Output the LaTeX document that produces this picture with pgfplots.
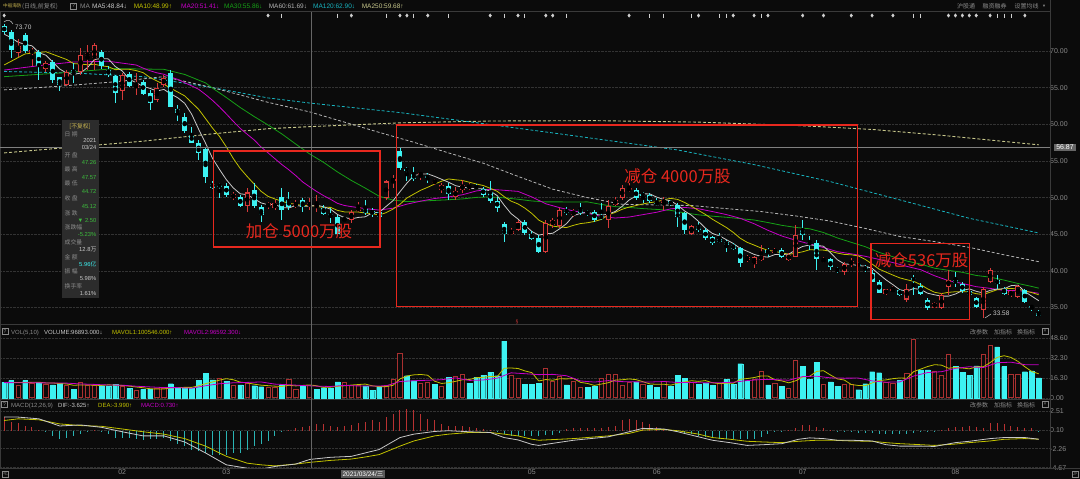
\documentclass[border=0pt]{standalone}
\usepackage{fontspec}
\setmainfont{Liberation Sans}
\newfontfamily\cjk{Noto Sans CJK SC}
\usepackage{pgfplots}
\pgfplotsset{compat=1.18}
\usepackage{pgfplotstable}
\newcommand\fs[1]{\fontsize{#1}{#1}\selectfont}
\definecolor{bg}{HTML}{0B0B0B}
\definecolor{upc}{HTML}{D83A3A}
\definecolor{dnc}{HTML}{3DF2F2}
\definecolor{volup}{HTML}{A93030}
\definecolor{txtg}{HTML}{8A8A8A}
\definecolor{ma5}{HTML}{C8C8C8}
\definecolor{ma10}{HTML}{C2C200}
\definecolor{ma20}{HTML}{C800C8}
\definecolor{ma30}{HTML}{16A016}
\definecolor{ma60}{HTML}{B4B4B4}
\definecolor{ma120}{HTML}{18B4C0}
\definecolor{ma250}{HTML}{C8C88C}
\definecolor{boxred}{HTML}{E8281E}
\definecolor{gridc}{HTML}{333333}
\definecolor{sepc}{HTML}{3A3A3A}
\definecolor{macdr}{HTML}{B83232}
\definecolor{macdc}{HTML}{2AB4B4}
\definecolor{mkc}{HTML}{D0D0D0}
\definecolor{infobg}{HTML}{2C2C2C}
\definecolor{grn}{HTML}{3DBE3D}
\definecolor{titlec}{HTML}{C8B450}

\pgfplotstableread{
i o h l c
0 73.4 73.7 72.3 72.6
1 72.6 72.9 69.1 70.1
2 69.7 71.7 69.2 70.7
3 72.2 72.4 69.7 70.05
4 69.7 70.4 67.9 70.1
5 69.9 70.1 66.05 67.9
6 67.5 68.7 67.2 68.4
7 68.5 68.8 65.6 66.05
8 66.4 66.5 64.6 65.3
9 65.4 67.4 65.2 67.2
10 67.4 68.3 65.6 67.0
11 67.2 70.4 66.7 69.5
12 69.3 70.8 67.4 69.7
13 69.0 71.05 67.4 70.8
14 69.9 70.1 67.6 67.9
15 67.4 67.9 66.5 66.7
16 66.6 66.7 62.9 64.3
17 64.5 66.95 63.3 66.7
18 66.9 67.2 65.1 65.2
19 64.9 66.95 64.0 65.5
20 65.8 66.05 64.0 64.2
21 64.3 64.7 61.95 62.9
22 63.3 65.6 63.1 64.9
23 65.4 66.7 65.1 66.3
24 67.05 67.4 62.3 62.4
25 62.05 62.6 60.4 61.6
26 60.96 61.5 58.8 59.1
27 58.6 59.7 57.4 57.5
28 57.5 57.9 55.1 56.1
29 56.7 56.95 51.96 52.8
30 51.9 52.2 51.2 51.3
31 51.7 51.95 49.9 51.6
32 51.6 51.95 50.1 50.4
33 49.9 50.8 49.7 50.5
34 50.1 50.35 48.7 48.8
35 48.8 51.3 48.1 50.7
36 51.05 51.95 48.55 48.8
37 48.7 49.0 46.7 47.6
38 48.8 49.4 48.5 49.2
39 48.55 49.7 48.3 49.2
40 50.05 51.3 46.95 48.3
41 49.7 50.8 48.3 48.7
42 48.9 49.7 48.55 49.2
43 49.7 49.9 48.1 48.7
44 48.9 49.9 48.3 49.2
45 48.7 50.35 48.1 49.0
46 48.6 49.0 47.6 47.7
47 47.7 48.55 46.5 47.5
48 47.3 47.6 44.9 45.1
49 46.95 47.4 46.7 47.1
50 46.95 48.3 46.5 48.1
51 48.2 49.45 48.1 48.7
52 48.5 49.7 47.6 47.9
53 48.2 48.55 47.4 47.8
54 48.0 48.3 46.95 47.4
55 49.9 52.4 49.7 52.2
56 52.2 53.1 51.3 52.6
57 56.3 56.95 53.8 54.0
58 53.9 54.2 52.2 53.7
59 53.2 54.2 52.2 52.5
60 53.1 53.55 52.4 53.3
61 53.0 53.3 51.95 52.7
62 52.0 52.6 51.7 52.3
63 51.05 51.95 50.6 51.7
64 51.6 51.95 49.7 50.5
65 50.05 51.5 49.7 50.95
66 51.05 52.4 50.6 51.7
67 51.3 52.0 51.0 51.6
68 51.5 51.8 51.0 51.3
69 51.2 51.5 50.1 50.4
70 50.8 52.2 49.2 49.5
71 49.55 50.1 48.1 48.6
72 46.35 46.7 43.9 45.1
73 45.05 45.8 44.9 45.5
74 45.6 46.95 45.4 46.7
75 46.7 46.95 44.9 45.2
76 45.05 45.4 44.2 44.4
77 44.45 44.9 42.4 42.6
78 42.6 46.95 42.4 46.5
79 46.3 47.2 45.9 46.95
80 46.1 48.55 45.9 48.3
81 48.3 48.75 47.6 47.95
82 47.6 48.5 47.4 48.1
83 48.5 49.2 47.6 47.9
84 48.1 48.3 47.5 47.8
85 48.1 48.3 46.7 47.0
86 47.5 49.2 46.95 47.2
87 46.95 49.7 45.9 48.85
88 49.0 50.1 48.8 49.7
89 49.9 51.7 49.7 51.3
90 51.0 51.95 50.8 51.3
91 51.1 51.3 49.7 50.0
92 50.5 50.7 49.2 50.3
93 50.35 50.6 49.2 49.6
94 49.3 49.9 48.8 49.1
95 49.3 50.1 48.3 49.7
96 49.5 49.7 48.85 49.1
97 49.0 49.2 46.0 47.4
98 47.85 48.1 45.1 45.6
99 45.1 46.3 44.9 46.1
100 46.1 46.7 45.35 45.6
101 45.6 45.8 44.2 44.45
102 44.6 44.8 43.5 43.8
103 44.3 45.2 43.85 44.0
104 44.0 44.2 42.6 43.5
105 43.5 43.8 42.85 43.0
106 43.1 43.3 40.6 41.1
107 41.5 42.2 41.2 41.85
108 40.95 42.0 40.35 41.85
109 41.5 43.5 41.3 42.1
110 42.85 43.1 41.95 42.5
111 42.5 43.1 42.3 42.85
112 42.85 43.1 41.7 41.85
113 41.5 42.4 41.35 42.2
114 41.95 46.3 41.85 44.9
115 45.6 46.95 44.2 44.9
116 44.0 44.7 42.85 43.85
117 43.8 44.2 40.1 41.6
118 41.3 41.95 41.05 41.6
119 41.6 41.7 40.1 40.5
120 40.2 40.6 39.7 40.05
121 39.9 41.25 39.45 41.0
122 40.8 41.7 40.6 41.35
123 40.95 41.25 40.5 40.7
124 40.5 40.8 39.9 40.2
125 39.75 40.1 38.5 38.5
126 38.45 38.75 36.95 37.0
127 36.8 37.6 36.7 37.5
128 37.35 37.95 37.2 37.45
129 37.4 37.6 36.6 36.7
130 36.1 38.2 35.8 37.6
131 39.0 39.45 36.7 38.75
132 37.95 38.3 36.7 36.85
133 36.05 36.3 34.7 34.9
134 35.0 35.8 34.95 35.6
135 34.9 36.95 34.75 36.7
136 37.85 40.1 36.7 38.75
137 38.75 39.9 37.85 38.3
138 38.2 38.5 37.05 37.3
139 37.2 37.4 36.5 36.7
140 36.3 36.5 34.9 35.05
141 34.7 37.85 33.58 37.6
142 38.5 40.35 38.3 40.1
143 38.75 39.45 37.6 38.2
144 37.6 37.85 36.7 36.85
145 36.7 37.4 36.5 37.2
146 36.5 38.1 36.3 37.95
147 37.4 37.6 35.6 35.7
148 35.15 35.35 34.6 35.05
149 34.3 34.7 33.7 33.8
}\kd

\pgfplotstableread{
i v u
0 12.5 0
1 14.1 0
2 10.5 1
3 14.1 0
4 11.9 1
5 12.7 0
6 11.1 1
7 10.5 0
8 11.9 0
9 10.5 1
10 7.1 0
11 12.5 1
12 10.5 1
13 10.5 1
14 9.9 0
15 9.7 0
16 11.1 0
17 9.1 1
18 7.7 0
19 6.3 1
20 6.9 0
21 7.1 0
22 7.7 1
23 7.7 1
24 11.6 0
25 7.7 0
26 7.7 0
27 7.7 0
28 14.4 0
29 19.8 0
30 14.7 0
31 15.6 1
32 13.3 0
33 9.9 1
34 10.5 0
35 11.9 1
36 9.9 0
37 9.1 0
38 8.3 1
39 8.3 1
40 10.5 0
41 14.7 1
42 6.9 1
43 9.9 0
44 10.5 1
45 7.1 0
46 8.3 0
47 7.7 0
48 13.0 0
49 12.7 1
50 10.5 1
51 9.9 1
52 9.7 0
53 6.3 0
54 9.1 0
55 10.5 1
56 15.3 1
57 35.8 1
58 18.1 0
59 13.9 0
60 11.9 1
61 12.5 1
62 11.1 0
63 9.1 1
64 16.9 0
65 17.5 1
66 18.9 1
67 11.9 0
68 16.9 0
69 18.4 0
70 20.9 0
71 18.1 0
72 46.1 0
73 18.1 1
74 16.1 1
75 11.1 0
76 11.1 0
77 12.0 0
78 24.1 1
79 13.4 1
80 17.1 1
81 10.6 0
82 13.4 1
83 8.6 1
84 8.6 0
85 9.2 0
86 16.2 1
87 19.0 1
88 19.0 1
89 10.1 1
90 12.9 1
91 12.9 0
92 10.6 1
93 10.1 0
94 8.4 0
95 13.4 1
96 9.2 0
97 18.5 0
98 15.7 0
99 12.9 1
100 10.9 0
101 12.0 0
102 10.1 0
103 11.5 1
104 15.1 0
105 10.9 0
106 27.8 0
107 13.4 0
108 15.1 1
109 21.9 1
110 10.6 0
111 12.0 1
112 9.2 0
113 7.3 1
114 30.3 1
115 25.5 0
116 15.1 0
117 29.1 0
118 10.6 1
119 12.9 0
120 9.5 0
121 10.6 1
122 10.6 1
123 6.7 0
124 11.5 0
125 21.3 0
126 20.5 0
127 12.9 1
128 12.0 1
129 14.3 0
130 19.9 1
131 48.0 1
132 22.7 0
133 22.7 0
134 21.9 1
135 17.9 1
136 35.3 1
137 25.5 0
138 20.7 0
139 18.5 0
140 26.1 0
141 35.3 1
142 42.9 1
143 41.5 0
144 25.5 0
145 19.1 1
146 19.3 1
147 21.3 0
148 21.9 0
149 16.2 0
}\vol

\pgfplotstableread{
i m
0 1.72
1 1.07
2 1.0
3 0.65
4 0.43
5 0.1
6 -0.2
7 -0.65
8 -1.07
9 -0.86
10 -0.65
11 -0.43
12 -0.2
13 0.05
14 -0.2
15 -0.43
16 -0.86
17 -0.86
18 -0.86
19 -1.07
20 -1.16
21 -1.07
22 -1.07
23 -0.86
24 -1.29
25 -1.72
26 -1.94
27 -2.37
28 -2.58
29 -2.8
30 -3.01
31 -3.01
32 -3.01
33 -2.8
34 -2.8
35 -2.37
36 -1.94
37 -1.72
38 -1.29
39 -0.65
40 -0.2
41 0.1
42 0.3
43 0.43
44 0.65
45 0.86
46 0.86
47 0.56
48 0.43
49 0.56
50 0.73
51 0.99
52 1.16
53 1.29
54 1.16
55 1.72
56 2.15
57 2.58
58 2.71
59 2.58
60 2.15
61 1.5
62 1.29
63 0.86
64 0.65
65 0.56
66 0.56
67 0.43
68 0.3
69 0.2
70 0.13
71 -0.1
72 -0.43
73 -0.65
74 -0.65
75 -0.65
76 -0.65
77 -0.65
78 -0.56
79 -0.5
80 -0.3
81 0.2
82 0.3
83 0.3
84 0.35
85 0.35
86 0.4
87 0.5
88 0.65
89 1.29
90 1.46
91 1.29
92 1.08
93 0.82
94 0.52
95 0.22
96 0.05
97 -0.2
98 -0.35
99 -0.47
100 -0.65
101 -0.77
102 -0.9
103 -0.99
104 -1.07
105 -1.07
106 -1.07
107 -0.99
108 -0.99
109 -0.77
110 -0.47
111 -0.22
112 -0.05
113 0.15
114 0.39
115 0.73
116 0.73
117 0.52
118 0.3
119 0.1
120 -0.1
121 -0.15
122 -0.2
123 -0.25
124 -0.3
125 -0.3
126 -0.4
127 -0.4
128 -0.45
129 -0.45
130 -0.35
131 -0.25
132 -0.15
133 -0.1
134 -0.05
135 0.1
136 0.3
137 0.45
138 0.52
139 0.65
140 0.52
141 0.4
142 0.95
143 1.03
144 0.82
145 0.65
146 0.52
147 0.39
148 0.3
149 -0.1
}\macd

\pgfplotsset{panel/.style={scale only axis, width=1050pt, xmin=-0.605, xmax=150.62,
  axis line style={draw=none}, tick style={draw=none}, xtick=\empty,
  yticklabel pos=right, yticklabel style={font=\fs{7}, text=txtg},
  ymajorgrids, grid style={gridc, densely dotted, line width=0.6pt},
  /pgf/number format/assume math mode=true, anchor=north west}}

\begin{document}
\begin{tikzpicture}[x=1pt,y=1pt, every node/.style={inner sep=0pt}]
\useasboundingbox (0,0) rectangle (1080,-479);
\fill[bg] (0,0) rectangle (1080,-479);

%================ PRICE PANEL
\begin{axis}[panel, at={(0pt,-12pt)}, height=312pt, ymin=32.76, ymax=75.32,
  ytick={35,40,45,50,55,60,65,70},
  yticklabel style={/pgf/number format/.cd, fixed, fixed zerofill, precision=2}]
\addplot[ma250, densely dashed, line width=0.9pt] coordinates {(0,56.1)(10,56.9)(20,57.7)(30,58.7)(38,59.4)(44,59.68)(57,60.2)(70,60.45)(85,60.5)(100,60.3)(115,59.8)(125,59.3)(135,58.5)(149,57.2)};
\addplot[ma120, densely dashed, line width=0.8pt] coordinates {(0,67.2)(10,67.0)(20,66.5)(30,65.0)(38,63.6)(44,62.9)(57,61.6)(65,60.6)(80,58.7)(97,56.5)(108,54.5)(119,52.18)(129,49.69)(139,47.18)(149,45.18)};
\addplot[ma60, densely dashed, line width=0.8pt] coordinates {(0,64.7)(8,65.2)(16,65.8)(23,66.5)(30,65.0)(38,63.0)(44,61.69)(49,60.3)(54,58.9)(59,57.55)(64,56.1)(69,54.69)(74,52.9)(79,51.15)(84,50.0)(89,49.09)(94,49.0)(99,48.92)(104,48.5)(109,48.1)(114,47.5)(119,46.8)(124,45.8)(129,44.7)(134,44.0)(139,43.21)(144,42.2)(149,41.26)};
\addplot[ma30, line width=0.8pt] coordinates {(0,66.5)(8,67.0)(16,67.6)(23,67.5)(26,66.8)(29,65.65)(30,64.94)(32,63.65)(34,62.29)(36,61.06)(38,59.91)(40,58.68)(42,57.3)(44,55.95)(46,54.81)(48,53.5)(50,52.34)(52,51.3)(54,50.19)(56,49.66)(58,49.46)(60,49.52)(62,49.62)(64,49.71)(66,49.82)(68,50.03)(70,50.1)(72,49.97)(74,49.78)(76,49.54)(78,49.42)(80,49.42)(82,49.4)(84,49.42)(86,49.07)(88,48.77)(90,48.66)(92,48.5)(94,48.39)(96,48.26)(98,47.92)(100,47.65)(102,47.47)(104,47.32)(106,47.13)(108,46.95)(110,46.6)(112,46.22)(114,45.93)(116,45.75)(118,45.24)(120,44.5)(122,43.9)(124,43.31)(126,42.53)(128,41.94)(130,41.35)(132,40.93)(134,40.37)(136,40.08)(138,39.81)(140,39.38)(142,39.15)(144,38.75)(146,38.29)(148,37.88)(149,37.65)};
\addplot[ma20, line width=0.8pt] coordinates {(0,67.4)(5,68.0)(10,68.5)(15,68.6)(19,68.09)(20,67.67)(21,67.31)(22,67.02)(23,66.83)(24,66.45)(25,66.13)(26,65.67)(27,65.24)(28,64.78)(29,64.06)(30,63.27)(31,62.38)(32,61.41)(33,60.4)(34,59.44)(35,58.64)(36,57.87)(37,56.91)(38,56.11)(39,55.3)(40,54.5)(41,53.79)(42,53.0)(43,52.13)(44,51.47)(45,50.84)(46,50.27)(47,49.77)(48,49.22)(49,48.93)(50,48.77)(52,48.5)(54,48.3)(56,48.56)(58,49.11)(60,49.52)(62,49.88)(64,50.09)(66,50.39)(68,50.91)(70,51.14)(72,51.0)(74,50.85)(76,50.09)(78,49.16)(80,48.63)(82,48.18)(84,47.86)(86,47.43)(88,47.22)(90,47.35)(92,47.68)(94,48.01)(96,48.47)(98,48.66)(100,48.48)(102,48.1)(104,47.69)(106,47.18)(108,46.44)(110,45.54)(112,44.76)(114,44.18)(116,43.68)(118,43.19)(120,42.63)(122,42.33)(124,42.0)(126,41.57)(128,41.14)(130,40.62)(132,40.17)(134,39.34)(136,38.67)(138,38.29)(140,37.85)(142,37.62)(144,37.33)(146,37.31)(148,37.1)(149,36.95)};
\addplot[ma10, line width=0.8pt] coordinates {(0,68.1)(3,69.6)(6,69.9)(9,68.84)(10,68.28)(11,68.22)(12,68.12)(13,68.2)(14,67.98)(15,67.86)(16,67.45)(17,67.51)(18,67.5)(19,67.33)(20,67.05)(21,66.39)(22,65.91)(23,65.46)(24,64.91)(25,64.4)(26,63.88)(27,62.96)(28,62.05)(29,60.78)(30,59.49)(31,58.36)(32,56.91)(33,55.33)(34,53.97)(35,52.88)(36,51.85)(37,50.86)(38,50.17)(39,49.81)(40,49.51)(41,49.22)(42,49.1)(43,48.92)(44,48.96)(45,48.79)(46,48.68)(47,48.67)(48,48.26)(49,48.05)(50,48.03)(51,48.03)(52,47.9)(53,47.81)(54,47.63)(55,47.95)(56,48.44)(57,49.09)(58,49.95)(59,50.49)(60,51.01)(61,51.41)(62,51.85)(63,52.24)(64,52.55)(65,52.43)(66,52.34)(67,52.1)(68,51.86)(69,51.65)(70,51.27)(71,50.86)(72,50.14)(73,49.52)(74,49.14)(75,48.56)(76,47.83)(77,46.93)(78,46.45)(79,46.11)(80,45.99)(81,45.92)(82,46.22)(83,46.46)(84,46.57)(85,46.75)(86,47.03)(87,47.66)(88,47.98)(89,48.41)(90,48.71)(91,48.92)(92,49.14)(93,49.31)(94,49.44)(95,49.71)(96,49.9)(97,49.75)(98,49.34)(99,48.82)(100,48.25)(101,47.7)(102,47.05)(103,46.49)(104,45.93)(105,45.26)(106,44.46)(107,43.9)(108,43.53)(109,43.13)(110,42.82)(111,42.66)(112,42.46)(113,42.28)(114,42.42)(115,42.61)(116,42.89)(117,42.86)(118,42.84)(119,42.68)(120,42.43)(121,42.25)(122,42.2)(123,42.05)(124,41.58)(125,40.94)(126,40.25)(127,39.84)(128,39.43)(129,39.05)(130,38.8)(131,38.58)(132,38.13)(133,37.55)(134,37.09)(135,36.91)(136,37.08)(137,37.16)(138,37.15)(139,37.15)(140,36.89)(141,36.78)(142,37.1)(143,37.43)(144,37.56)(145,37.61)(146,37.53)(147,37.27)(148,37.04)(149,36.75)};
\addplot[ma5, line width=0.8pt] coordinates {(0,72.3)(1,71.8)(2,71.2)(3,70.9)(4,70.71)(5,69.77)(6,69.43)(7,68.5)(8,67.55)(9,66.97)(10,66.79)(11,67.01)(12,67.74)(13,68.84)(14,68.98)(15,68.92)(16,67.88)(17,67.28)(18,66.16)(19,65.68)(20,65.18)(21,64.9)(22,64.54)(23,64.76)(24,64.14)(25,63.62)(26,62.86)(27,61.38)(28,59.34)(29,57.42)(30,55.36)(31,53.86)(32,52.44)(33,51.32)(34,50.52)(35,50.4)(36,49.84)(37,49.28)(38,49.02)(39,49.1)(40,48.62)(41,48.6)(42,48.92)(43,48.82)(44,48.82)(45,48.96)(46,48.76)(47,48.42)(48,47.7)(49,47.28)(50,47.1)(51,47.3)(52,47.38)(53,47.92)(54,47.98)(55,48.8)(56,49.58)(57,50.8)(58,51.98)(59,53.0)(60,53.22)(61,53.24)(62,52.9)(63,52.5)(64,52.1)(65,51.63)(66,51.43)(67,51.29)(68,51.21)(69,51.19)(70,50.9)(71,50.28)(72,48.98)(73,47.82)(74,47.08)(75,46.22)(76,45.38)(77,44.88)(78,45.08)(79,45.13)(80,45.75)(81,46.46)(82,47.56)(83,47.84)(84,48.01)(85,47.75)(86,47.6)(87,47.75)(88,48.11)(89,48.81)(90,49.67)(91,50.23)(92,50.52)(93,50.5)(94,50.06)(95,49.74)(96,49.56)(97,48.98)(98,48.18)(99,47.58)(100,46.76)(101,45.83)(102,45.11)(103,44.79)(104,44.27)(105,43.75)(106,43.08)(107,42.69)(108,42.26)(109,41.98)(110,41.88)(111,42.23)(112,42.23)(113,42.3)(114,42.86)(115,43.34)(116,43.54)(117,43.49)(118,43.37)(119,42.49)(120,41.52)(121,40.95)(122,40.9)(123,40.72)(124,40.66)(125,40.35)(126,39.55)(127,38.78)(128,38.13)(129,37.43)(130,37.25)(131,37.6)(132,37.47)(133,36.96)(134,36.74)(135,36.56)(136,36.56)(137,36.85)(138,37.33)(139,37.55)(140,37.22)(141,36.99)(142,37.35)(143,37.53)(144,37.56)(145,37.99)(146,38.06)(147,37.18)(148,36.55)(149,35.94)};
% candles: down
\addplot[only marks, mark=none, restrict expr to domain={\thisrow{c}-\thisrow{o}}{-1000:-0.0001},
  error bars/.cd, y dir=both, y explicit, error mark=none, error bar style={draw=dnc, solid, line width=0.9pt}]
  table[x=i, y expr={(\thisrow{h}+\thisrow{l})/2}, y error expr={(\thisrow{h}-\thisrow{l})/2}] {\kd};
\addplot[only marks, mark=none, restrict expr to domain={\thisrow{c}-\thisrow{o}}{-1000:-0.0001},
  error bars/.cd, y dir=both, y explicit, error mark=none, error bar style={draw=dnc, solid, line width=5pt}]
  table[x=i, y expr={(\thisrow{o}+\thisrow{c})/2}, y error expr={max(abs(\thisrow{o}-\thisrow{c})/2,0.07)}] {\kd};
% candles: up
\addplot[only marks, mark=none, restrict expr to domain={\thisrow{c}-\thisrow{o}}{0:1000},
  error bars/.cd, y dir=both, y explicit, error mark=none, error bar style={draw=upc, solid, line width=0.9pt}]
  table[x=i, y expr={(\thisrow{h}+\thisrow{l})/2}, y error expr={(\thisrow{h}-\thisrow{l})/2}] {\kd};
\addplot[only marks, mark=none, restrict expr to domain={\thisrow{c}-\thisrow{o}}{0:1000},
  error bars/.cd, y dir=both, y explicit, error mark=none, error bar style={draw=upc, solid, line width=5pt}]
  table[x=i, y expr={(\thisrow{o}+\thisrow{c})/2}, y error expr={max(abs(\thisrow{o}-\thisrow{c})/2,0.07)}] {\kd};
\addplot[only marks, mark=none, restrict expr to domain={\thisrow{c}-\thisrow{o}}{0:1000},
  error bars/.cd, y dir=both, y explicit, error mark=none, error bar style={draw=bg, solid, line width=3.2pt}]
  table[x=i, y expr={(\thisrow{o}+\thisrow{c})/2}, y error expr={max(abs(\thisrow{o}-\thisrow{c})/2-0.14,0)}] {\kd};
% event markers row
\addplot[only marks, mark=diamond*, mark size=1.7pt, mkc] coordinates {(0,74.84)(38,74.84)(50,74.84)(57,74.84)(58,74.84)(61,74.84)(70,74.84)(74,74.84)(78,74.84)(79,74.84)(90,74.84)(100,74.84)(105,74.84)(108,74.84)(110,74.84)(115,74.84)(118,74.84)(122,74.84)(125,74.84)(128,74.84)(136,74.84)(137,74.84)(138,74.84)(139,74.84)(140,74.84)(142,74.84)(147,74.84)};
\addplot[only marks, mark=|, mark size=2pt, mkc, line width=0.9pt] coordinates {(40,74.84)(48,74.84)(55,74.84)(59,74.84)(64,74.84)(72,74.84)(75,74.84)(81,74.84)(93,74.84)(95,74.84)(99,74.84)(103,74.84)(104,74.84)(109,74.84)(131,74.84)(132,74.84)(143,74.84)(144,74.84)(145,74.84)};
\end{axis}

%================ VOLUME PANEL
\begin{axis}[panel, at={(0pt,-324pt)}, height=75pt, ymin=-0.98, ymax=60.15,
  ytick={0,16.3,32.3,48.6}, yticklabels={0.00,16.30,32.30,48.60}]
\addplot[ybar, bar width=4.8pt, bar shift=0pt, fill=dnc, draw=dnc, line width=0.1pt,
  restrict expr to domain={\thisrow{u}}{-0.5:0.5}] table[x=i,y=v] {\vol};
\addplot[ybar, bar width=4.2pt, bar shift=0pt, fill=bg, draw=volup, line width=0.8pt,
  restrict expr to domain={\thisrow{u}}{0.5:1.5}] table[x=i,y=v] {\vol};
\addplot[ma10, line width=0.8pt] coordinates {(0,12.5)(2,12.4)(4,12.6)(5,12.7)(6,12.1)(7,12.1)(8,11.6)(9,11.3)(10,10.2)(11,10.5)(12,10.5)(13,10.2)(14,10.1)(15,10.6)(16,10.3)(17,10.1)(18,9.5)(19,8.8)(20,8.2)(21,7.4)(22,7.1)(23,7.1)(24,8.2)(25,8.4)(26,8.5)(27,8.5)(28,9.8)(29,11.5)(30,12.9)(31,14.4)(32,15.6)(33,14.7)(34,12.8)(35,12.2)(36,11.1)(37,10.3)(38,9.9)(39,9.5)(40,9.2)(41,10.2)(42,9.7)(43,10.1)(44,10.5)(45,9.8)(46,8.5)(47,8.7)(48,9.3)(49,9.8)(50,10.4)(51,10.8)(52,11.2)(53,9.8)(54,9.1)(55,9.1)(56,10.2)(57,15.4)(58,17.8)(59,18.7)(60,19.0)(61,18.4)(62,13.5)(63,11.7)(64,12.3)(65,13.4)(66,14.7)(67,14.9)(68,16.4)(69,16.7)(70,17.4)(71,17.2)(72,24.1)(73,24.3)(74,23.9)(75,21.9)(76,20.5)(77,13.7)(78,14.9)(79,14.3)(80,15.5)(81,15.4)(82,15.7)(83,12.6)(84,11.7)(85,10.1)(86,11.2)(87,12.3)(88,14.4)(89,14.7)(90,15.4)(91,14.8)(92,13.1)(93,11.3)(94,11.0)(95,11.1)(96,10.3)(97,11.9)(98,13.0)(99,13.9)(100,13.4)(101,14.0)(102,12.3)(103,11.5)(104,11.9)(105,11.9)(106,15.1)(107,15.7)(108,16.5)(109,17.8)(110,17.8)(111,14.6)(112,13.8)(113,12.2)(114,13.9)(115,16.9)(116,17.5)(117,21.5)(118,22.1)(119,18.6)(120,15.4)(121,14.5)(122,10.8)(123,10.1)(124,9.8)(125,12.1)(126,14.1)(127,14.6)(128,15.6)(129,16.2)(130,15.9)(131,21.4)(132,23.4)(133,25.5)(134,27.0)(135,26.6)(136,24.1)(137,24.7)(138,24.3)(139,23.6)(140,25.2)(141,25.2)(142,28.7)(143,32.9)(144,34.3)(145,32.9)(146,29.7)(147,25.3)(148,21.4)(149,19.6)};
\addplot[ma20, line width=0.8pt] coordinates {(0,12.4)(5,12.2)(9,11.98)(11,11.28)(13,10.92)(15,10.42)(17,10.28)(19,9.44)(21,8.88)(23,8.32)(25,8.29)(27,7.81)(29,9.83)(31,11.46)(33,12.24)(35,12.55)(37,12.91)(39,11.15)(41,10.64)(43,10.0)(45,9.52)(47,9.22)(49,10.13)(51,9.65)(53,9.57)(55,9.77)(57,13.28)(59,13.91)(61,14.31)(63,14.73)(65,16.21)(67,14.18)(69,14.51)(71,15.97)(73,20.37)(75,19.65)(77,18.88)(79,19.1)(81,17.97)(83,13.75)(85,12.81)(87,14.02)(89,13.18)(91,12.99)(93,12.86)(95,13.26)(97,12.51)(99,12.46)(101,12.17)(103,12.26)(105,12.68)(107,14.03)(109,14.87)(111,14.84)(113,14.33)(115,17.31)(117,17.61)(119,16.26)(121,16.01)(123,16.09)(125,13.79)(127,12.71)(129,12.99)(131,17.77)(133,20.58)(135,21.28)(137,24.02)(139,25.31)(141,24.66)(143,28.56)(145,29.04)(147,27.02)(149,26.91)};
\end{axis}

%================ MACD PANEL
\begin{axis}[panel, at={(0pt,-399pt)}, height=69pt, ymin=-4.7, ymax=4.0,
  ytick={2.51,0.10,-2.26,-4.67}, yticklabels={2.51,0.10,-2.26,-4.67},
  xtick={17,32,76,94,115,137}, xticklabels={02,03,05,06,07,08},
  xticklabel style={font=\fs{7}, text=txtg, yshift=-1.5pt}]
\addplot[ycomb, draw=macdr, line width=1pt, restrict y to domain=0:10] table[x=i,y=m] {\macd};
\addplot[ycomb, draw=macdc, line width=1pt, restrict y to domain=-10:0] table[x=i,y=m] {\macd};
\addplot[ma10, line width=0.8pt] coordinates {(0,1.29)(2,1.5)(5,1.38)(8,0.86)(11,0.65)(14,0.56)(17,0.22)(20,-0.13)(23,-0.43)(26,-0.99)(29,-1.94)(32,-3.23)(35,-4.09)(37,-4.3)(39,-4.43)(42,-4.2)(44,-3.99)(47,-3.74)(50,-3.57)(52,-3.31)(54,-3.01)(57,-1.94)(59,-1.29)(62,-0.65)(64,-0.43)(67,-0.22)(70,-0.22)(72,-0.43)(74,-0.65)(76,-1.07)(77,-1.2)(82,-0.99)(87,-0.65)(90,-0.34)(92,0.09)(95,0.17)(97,0)(100,-0.43)(102,-0.86)(104.5,-1.07)(107,-1.33)(109.4,-1.42)(112,-1.5)(114.4,-1.33)(117,-1.2)(119.4,-1.2)(122,-1.29)(125,-1.33)(127,-1.5)(129,-1.63)(132,-1.76)(134,-1.85)(137,-1.68)(139,-1.5)(142,-1.29)(144,-1.08)(147,-0.99)(149,-1.07)};
\addplot[ma5, line width=0.8pt] coordinates {(0,1.72)(2,1.72)(5,1.5)(8,0.6)(11,0.73)(14,0.43)(17,-0.13)(20,-0.65)(23,-0.65)(26,-1.42)(29,-2.8)(32,-4.3)(35,-4.73)(37,-4.86)(39,-4.5)(42,-4.2)(44,-3.62)(47,-3.35)(50,-3.23)(52,-2.8)(54,-2.37)(57,-0.86)(59,-0.43)(62,-0.09)(64,0)(67,-0.13)(70,-0.22)(72,-0.86)(74,-1.16)(76,-1.72)(77,-1.85)(82,-1.2)(87,-0.77)(90,-0.13)(92,0.3)(95,0.22)(97,-0.13)(100,-0.77)(102,-1.2)(104.5,-1.5)(107,-1.85)(109.4,-1.76)(112,-1.63)(114.4,-1.08)(116,-0.9)(118,-0.99)(120,-1.2)(122,-1.2)(125,-1.29)(127,-1.76)(129,-1.94)(132,-1.94)(134,-1.98)(137,-1.5)(139,-1.33)(142,-0.99)(144,-0.86)(147,-0.86)(149,-1.07)};
\end{axis}

%================ FRAME, CROSSHAIR
\draw[sepc, line width=0.8pt] (0,-11.5) -- (1050,-11.5);
\draw[sepc, line width=0.8pt] (0,-324) -- (1050,-324);
\draw[sepc, line width=0.8pt] (0,-399) -- (1050,-399);
\draw[sepc, line width=0.8pt] (0,-468) -- (1080,-468);
\draw[sepc, line width=0.8pt] (1050,0) -- (1050,-468);
\draw[sepc, line width=0.8pt] (0.5,-12) -- (0.5,-468);
\draw[black!60!white, line width=0.8pt] (311,-12) -- (311,-468);
\draw[black!50!white, line width=0.8pt] (0,-147.5) -- (1050,-147.5);
\node[fill=black!60!white, text=white, font=\fs{7}, inner xsep=2pt, inner ysep=1.5pt] at (1065,-147.5) {56.87};

%================ HEADER
\tikzset{hd/.style={anchor=base west, font=\fs{6.5}}}
\node[hd, text=titlec, font=\cjk\fs{4.6}] at (3,-8) {中船海防};
\node[hd, text=txtg, font=\cjk\fs{6}] at (22,-8.5) {(日线,前复权)};
\node[draw=txtg, text=txtg, font=\fs{5.5}, minimum size=6pt] at (73.5,-6) {?};
\node[hd, text=txtg] at (80,-8.5) {MA};
\node[hd, text=ma5] at (92,-8.5) {MA5:48.84↓};
\node[hd, text=ma10] at (133.6,-8.5) {MA10:48.99↑};
\node[hd, text=ma20] at (181,-8.5) {MA20:51.41↓};
\node[hd, text=ma30] at (224,-8.5) {MA30:55.86↓};
\node[hd, text=ma60] at (268.6,-8.5) {MA60:61.69↓};
\node[hd, text=ma120] at (313,-8.5) {MA120:62.90↓};
\node[hd, text=ma250] at (361.6,-8.5) {MA250:59.68↑};
\node[hd, text=txtg, font=\cjk\fs{6}] at (957,-8.5) {沪股通};
\node[hd, text=txtg, font=\cjk\fs{6}] at (982.5,-8.5) {融资融券};
\node[hd, text=txtg, font=\cjk\fs{6}] at (1014.5,-8.5) {设置均线};
\node[hd, text=txtg, font=\fs{4}] at (1042,-8) {▼};

% price annotations
\node[anchor=base west, text=ma5, font=\fs{6.5}] at (15,-29) {73.70};
\draw[ma5, line width=0.5pt] (4,-22) .. controls (7,-19) and (11,-20) .. (13,-24);
\node[anchor=base west, text=ma5, font=\fs{6.5}] at (993,-315.5) {33.58};
\draw[ma5, line width=0.5pt] (985,-318) -- (991,-314);
\node[text=upc, font=\fs{5}] at (517,-322) {§};

% info box
\fill[infobg] (61.5,-120) rectangle (98.5,-298);
\tikzset{il/.style={anchor=base west, font=\cjk\fs{5.8}, text=black!45!white},
         iv/.style={anchor=base east, font=\fs{5.8}}}
\node[anchor=base, font=\cjk\fs{5.8}, text=titlec] at (80,-128.5) {[不复权]};
\node[il] at (64.5,-136.5) {日\ 期};
\node[iv, text=ma5] at (96.5,-142) {2021};
\node[iv, text=ma5] at (96.5,-149.5) {03/24};
\node[il] at (64.5,-157) {开\ 盘};
\node[iv, text=grn] at (96.5,-164) {47.26};
\node[il] at (64.5,-171.5) {最\ 高};
\node[iv, text=grn] at (96.5,-179) {47.57};
\node[il] at (64.5,-185.5) {最\ 低};
\node[iv, text=grn] at (96.5,-193) {44.72};
\node[il] at (64.5,-200.5) {收\ 盘};
\node[iv, text=grn] at (96.5,-208) {45.12};
\node[il] at (64.5,-215.5) {涨\ 跌};
\node[iv, text=grn] at (96.5,-222.5) {▼ 2.50};
\node[il] at (64.5,-229.5) {涨跌幅};
\node[iv, text=grn] at (96.5,-236.5) {-5.23\%};
\node[il] at (64.5,-244) {成交量};
\node[iv, text=ma5] at (96.5,-251.5) {12.8{\cjk 万}};
\node[il] at (64.5,-259) {金\ 额};
\node[iv, text=dnc] at (96.5,-266) {5.96{\cjk 亿}};
\node[il] at (64.5,-273) {振\ 幅};
\node[iv, text=ma5] at (96.5,-280) {5.98\%};
\node[il] at (64.5,-288) {换手率};
\node[iv, text=ma5] at (96.5,-295) {1.61\%};

% red annotation boxes
\draw[boxred, line width=1.4pt] (213.3,-151) rectangle (380,-247);
\node[text=boxred, font=\cjk\fs{16.5}] at (299,-231.7) {加仓 5000万股};
\draw[boxred, line width=1.4pt] (396.7,-125) rectangle (857.3,-306.7);
\node[text=boxred, font=\cjk\fs{16.5}] at (677.5,-176.7) {减仓 4000万股};
\draw[boxred, line width=1.4pt] (871,-243.3) rectangle (969.3,-319.3);
\node[text=boxred, font=\cjk\fs{16.5}] at (921.7,-260.7) {减仓536万股};

% volume title
\node[draw=txtg, text=txtg, font=\fs{5.5}, minimum size=6pt] at (5,-331.5) {?};
\node[hd, text=txtg, font=\fs{6}] at (11,-334) {VOL(5,10)};
\node[hd, text=ma5, font=\fs{6}] at (44,-334) {VOLUME:96893.000↓};
\node[hd, text=ma10, font=\fs{6}] at (112,-334) {MAVOL1:100546.000↑};
\node[hd, text=ma20, font=\fs{6}] at (184,-334) {MAVOL2:96592.300↓};
\node[hd, text=txtg, font=\cjk\fs{6}] at (970,-334) {改参数};
\node[hd, text=txtg, font=\cjk\fs{6}] at (994,-334) {加指标};
\node[hd, text=txtg, font=\cjk\fs{6}] at (1017,-334) {换指标};
\node[draw=txtg, text=txtg, font=\fs{5}, minimum size=6pt] at (1045,-331.5) {×};

% macd title
\node[draw=txtg, text=txtg, font=\fs{5.5}, minimum size=6pt] at (4.5,-404.5) {?};
\node[hd, text=txtg, font=\fs{6}] at (11,-407) {MACD(12,26,9)};
\node[hd, text=ma5, font=\fs{6}] at (58,-407) {DIF:-3.625↑};
\node[hd, text=ma10, font=\fs{6}] at (98,-407) {DEA:-3.990↑};
\node[hd, text=ma20, font=\fs{6}] at (141,-407) {MACD:0.730↑};
\node[hd, text=txtg, font=\cjk\fs{6}] at (970,-407) {改参数};
\node[hd, text=txtg, font=\cjk\fs{6}] at (994,-407) {加指标};
\node[hd, text=txtg, font=\cjk\fs{6}] at (1017,-407) {换指标};
\node[draw=txtg, text=txtg, font=\fs{5}, minimum size=6pt] at (1045,-404.5) {×};

% bottom strip
\node[fill=black!65!white, text=white, font=\fs{6.5}, inner xsep=2pt, inner ysep=1.5pt] at (363,-474) {2021/03/24/{\cjk 三}};
\node[draw=txtg, text=txtg, font=\cjk\fs{5}, minimum size=6pt] at (5.5,-474) {≪};
\node[draw=txtg, text=txtg, font=\cjk\fs{5}, minimum size=6pt] at (1075,-474) {≫};
\end{tikzpicture}
\end{document}
